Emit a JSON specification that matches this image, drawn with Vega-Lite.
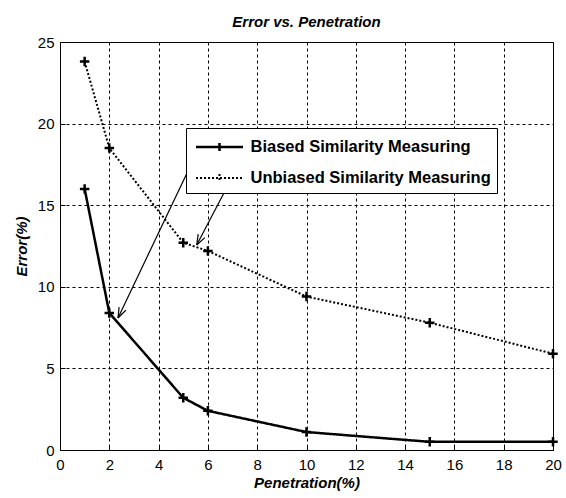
{
  "$schema": "https://vega.github.io/schema/vega-lite/v6.json",
  "width": 493,
  "height": 408,
  "autosize": {"type": "none"},
  "padding": {"left": 60, "top": 42, "right": 13, "bottom": 48},
  "background": "white",
  "title": {
    "text": "Error vs. Penetration",
    "font": "Liberation Sans, Arial, sans-serif",
    "fontSize": 15,
    "fontStyle": "italic",
    "fontWeight": "bold",
    "color": "black",
    "offset": 5
  },
  "config": {
    "view": {"stroke": "black", "strokeWidth": 1},
    "axis": {
      "grid": true,
      "gridColor": "black",
      "gridOpacity": 1,
      "gridDash": [3, 3],
      "gridWidth": 1,
      "domain": false,
      "tickColor": "black",
      "tickSize": -5,
      "labelFont": "Liberation Sans, Arial, sans-serif",
      "labelFontSize": 15,
      "labelColor": "black",
      "labelFlush": false,
      "labelOverlap": false,
      "titleFont": "Liberation Sans, Arial, sans-serif",
      "titleFontSize": 15,
      "titleFontStyle": "italic",
      "titleFontWeight": "bold",
      "titleColor": "black"
    }
  },
  "datasets": {
    "series": [
      {"pen": 1, "err": 16.0, "series": "Biased Similarity Measuring"},
      {"pen": 2, "err": 8.4, "series": "Biased Similarity Measuring"},
      {"pen": 5, "err": 3.2, "series": "Biased Similarity Measuring"},
      {"pen": 6, "err": 2.4, "series": "Biased Similarity Measuring"},
      {"pen": 10, "err": 1.1, "series": "Biased Similarity Measuring"},
      {"pen": 15, "err": 0.5, "series": "Biased Similarity Measuring"},
      {"pen": 20, "err": 0.5, "series": "Biased Similarity Measuring"},
      {"pen": 1, "err": 23.8, "series": "Unbiased Similarity Measuring"},
      {"pen": 2, "err": 18.5, "series": "Unbiased Similarity Measuring"},
      {"pen": 5, "err": 12.7, "series": "Unbiased Similarity Measuring"},
      {"pen": 6, "err": 12.2, "series": "Unbiased Similarity Measuring"},
      {"pen": 10, "err": 9.4, "series": "Unbiased Similarity Measuring"},
      {"pen": 15, "err": 7.8, "series": "Unbiased Similarity Measuring"},
      {"pen": 20, "err": 5.9, "series": "Unbiased Similarity Measuring"}
    ],
    "arrows": [
      {"x": 5.598, "y": 18.38, "x2": 2.353, "y2": 8.088},
      {"x": 2.669, "y": 8.56, "x2": 2.353, "y2": 8.088},
      {"x": 2.398, "y": 8.756, "x2": 2.353, "y2": 8.088},
      {"x": 6.868, "y": 16.38, "x2": 5.546, "y2": 12.56},
      {"x": 5.874, "y": 13.01, "x2": 5.546, "y2": 12.56},
      {"x": 5.606, "y": 13.23, "x2": 5.546, "y2": 12.56}
    ]
  },
  "layer": [
    {
      "data": {"name": "series"},
      "mark": {"type": "line", "color": "black", "strokeCap": "butt"},
      "encoding": {
        "x": {
          "field": "pen",
          "type": "quantitative",
          "scale": {"domain": [0, 20], "nice": false},
          "axis": {"values": [0, 2, 4, 6, 8, 10, 12, 14, 16, 18, 20], "title": "Penetration(%)", "labelPadding": 12, "titlePadding": 3}
        },
        "y": {
          "field": "err",
          "type": "quantitative",
          "scale": {"domain": [0, 25], "nice": false},
          "axis": {"values": [0, 5, 10, 15, 20, 25], "title": "Error(%)", "labelPadding": 11, "titlePadding": 8}
        },
        "strokeDash": {
          "field": "series",
          "type": "nominal",
          "scale": {"domain": ["Biased Similarity Measuring", "Unbiased Similarity Measuring"], "range": [[1, 0], [2, 2]]},
          "legend": {
            "orient": "none",
            "legendX": 126,
            "legendY": 86,
            "title": null,
            "symbolType": "M-2,0L2,0M0,-0.35L0,0.35",
            "symbolSize": 552,
            "symbolStrokeColor": "black",
            "symbolFillColor": "transparent",
            "symbolOffset": 14.5,
            "labelFont": "Liberation Sans, Arial, sans-serif",
            "labelFontSize": 16.5,
            "labelFontWeight": "bold",
            "labelColor": "black",
            "labelLimit": 400,
            "labelExpr": "datum.label + '\u2003\u2003'",
            "strokeColor": "black",
            "fillColor": "white",
            "padding": 6,
            "rowPadding": 8,
            "labelOffset": 18
          }
        },
        "strokeWidth": {
          "field": "series",
          "type": "nominal",
          "scale": {"domain": ["Biased Similarity Measuring", "Unbiased Similarity Measuring"], "range": [2.5, 2]},
          "legend": null
        }
      }
    },
    {
      "data": {"name": "series"},
      "mark": {"type": "point", "shape": "M-1,0L1,0M0,-1L0,1", "size": 90, "filled": false, "color": "black", "strokeWidth": 2.5, "opacity": 1},
      "encoding": {
        "x": {"field": "pen", "type": "quantitative"},
        "y": {"field": "err", "type": "quantitative"}
      }
    },
    {
      "data": {"name": "arrows"},
      "mark": {"type": "rule", "color": "black", "strokeWidth": 1.2},
      "encoding": {
        "x": {"field": "x", "type": "quantitative"},
        "y": {"field": "y", "type": "quantitative"},
        "x2": {"field": "x2"},
        "y2": {"field": "y2"}
      }
    }
  ]
}
